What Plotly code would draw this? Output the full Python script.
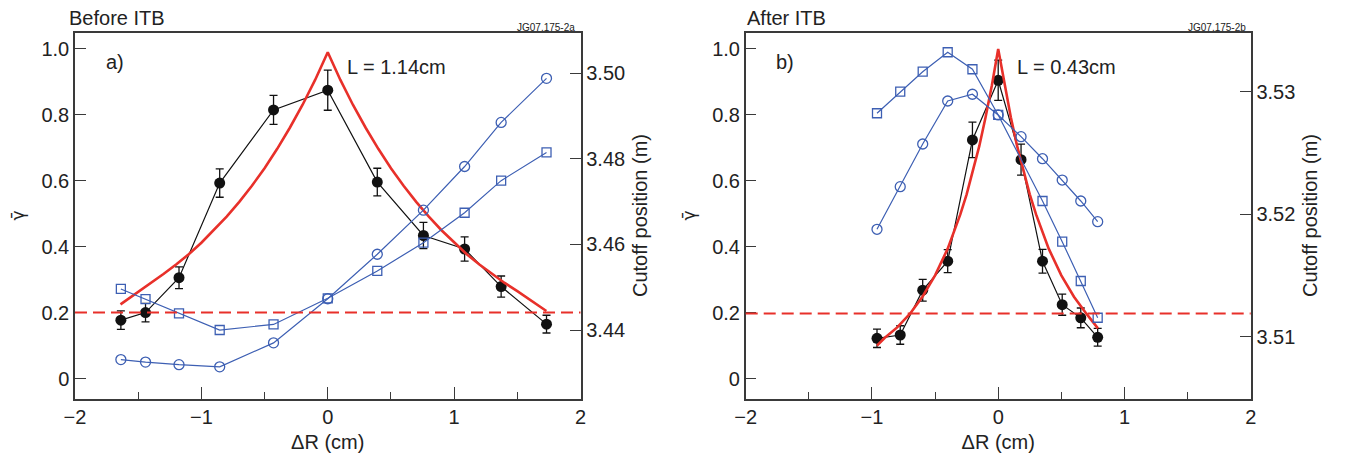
import plotly.graph_objects as go

# ---------------- data: panel a) Before ITB ----------------
a_dr = [-1.637, -1.442, -1.177, -0.855, -0.429, 0.0, 0.392, 0.757, 1.083, 1.372, 1.731]
a_gamma = [0.177, 0.200, 0.306, 0.593, 0.815, 0.875, 0.596, 0.434, 0.393, 0.279, 0.165]
a_gamma_err = [0.028, 0.028, 0.033, 0.043, 0.044, 0.061, 0.042, 0.040, 0.037, 0.032, 0.027]
a_cut_circ = [3.4331, 3.4325, 3.4319, 3.4314, 3.4370, 3.4473, 3.4577, 3.4680, 3.4782, 3.4885, 3.4988]
a_cut_sq = [3.4496, 3.4472, 3.4439, 3.4400, 3.4413, 3.4474, 3.4538, 3.4604, 3.4674, 3.4749, 3.4815]
a_fit_dr = [-1.64, -1.5, -1.4, -1.3, -1.2, -1.1, -1.0, -0.9, -0.8, -0.7, -0.6, -0.5, -0.4, -0.3, -0.2, -0.1, 0.0,
            0.1, 0.2, 0.3, 0.4, 0.5, 0.6, 0.7, 0.8, 0.9, 1.0, 1.1, 1.2, 1.3, 1.4, 1.5, 1.6, 1.73]
a_fit_g = [0.225, 0.262, 0.29, 0.317, 0.346, 0.377, 0.412, 0.45, 0.491, 0.536, 0.585, 0.638, 0.697, 0.761, 0.83, 0.906, 0.99,
           0.906, 0.83, 0.761, 0.697, 0.638, 0.585, 0.536, 0.491, 0.45, 0.412, 0.377, 0.346, 0.317, 0.29, 0.265, 0.24, 0.205]
a_threshold = 0.2

# ---------------- data: panel b) After ITB ----------------
b_dr = [-0.960, -0.776, -0.598, -0.400, -0.204, 0.0, 0.181, 0.351, 0.507, 0.654, 0.788]
b_gamma = [0.122, 0.132, 0.268, 0.356, 0.724, 0.905, 0.664, 0.356, 0.224, 0.184, 0.125]
b_gamma_err = [0.028, 0.028, 0.033, 0.035, 0.054, 0.061, 0.047, 0.036, 0.032, 0.030, 0.027]
b_cut_circ = [3.51877, 3.52225, 3.52573, 3.52924, 3.52979, 3.52810, 3.52633, 3.52453, 3.52279, 3.52108, 3.51939]
b_sq_dr = [-0.960, -0.776, -0.598, -0.400, -0.204, 0.0, 0.351, 0.507, 0.654, 0.788]
b_cut_sq = [3.52824, 3.53000, 3.53163, 3.53322, 3.53183, 3.52810, 3.52108, 3.51776, 3.51455, 3.51155]
b_fit_dr = [-0.96, -0.9, -0.8, -0.7, -0.6, -0.5, -0.4, -0.3, -0.25, -0.2, -0.15, -0.1, -0.05, 0.0,
            0.05, 0.1, 0.15, 0.2, 0.25, 0.3, 0.4, 0.5, 0.6, 0.7, 0.79]
b_fit_g = [0.10, 0.123, 0.155, 0.196, 0.248, 0.313, 0.394, 0.498, 0.559, 0.628, 0.705, 0.793, 0.89, 1.0,
           0.89, 0.793, 0.705, 0.628, 0.559, 0.498, 0.394, 0.313, 0.248, 0.196, 0.152]
b_threshold = 0.197

gamma_ticks = [0, 0.2, 0.4, 0.6, 0.8, 1.0]
gamma_ticktext = ["0", "0.2", "0.4", "0.6", "0.8", "1.0"]
a_cut_ticks = [3.44, 3.46, 3.48, 3.50]
b_cut_ticks = [3.51, 3.52, 3.53]
x_ticks = [-2, -1, 0, 1, 2]

# ---------------- styling ----------------
OFF = 8  # page body margin in the browser
W, H = 1348 - OFF, 454 - OFF
FONT = "Liberation Sans, Arial, sans-serif"
BLUE = "#3d5fb3"
RED = "#e8302a"
BLACK = "#111111"
AX = "#3a3a3a"

def px_x(p):
    return (p - OFF) / W

def px_y(p):
    return 1 - (p - OFF) / H

top_px, bot_px = 32.5, 398.5
ydom = [px_y(bot_px), px_y(top_px)]

fig = go.Figure()

def add_panel(xa, ya, ya2, dr, g, gerr, circ_dr, circ, sq_dr, sq, fdr, fg):
    fig.add_trace(go.Scatter(x=circ_dr, y=circ, xaxis=xa, yaxis=ya2, mode="lines+markers",
                             line=dict(color=BLUE, width=1.2),
                             marker=dict(symbol="circle-open", size=10, color=BLUE, line=dict(width=1.3, color=BLUE)),
                             showlegend=False))
    fig.add_trace(go.Scatter(x=sq_dr, y=sq, xaxis=xa, yaxis=ya2, mode="lines+markers",
                             line=dict(color=BLUE, width=1.2),
                             marker=dict(symbol="square-open", size=9, color=BLUE, line=dict(width=1.3, color=BLUE)),
                             showlegend=False))
    fig.add_trace(go.Scatter(x=dr, y=g, xaxis=xa, yaxis=ya, mode="lines+markers",
                             line=dict(color=BLACK, width=1.2),
                             marker=dict(symbol="circle", size=11, color=BLACK),
                             error_y=dict(type="data", array=gerr, color=BLACK, thickness=1.3, width=4),
                             showlegend=False))
    fig.add_trace(go.Scatter(x=fdr, y=fg, xaxis=xa, yaxis=ya, mode="lines",
                             line=dict(color=RED, width=2.6), showlegend=False))

add_panel("x", "y", "y2", a_dr, a_gamma, a_gamma_err, a_dr, a_cut_circ, a_dr, a_cut_sq, a_fit_dr, a_fit_g)
add_panel("x2", "y3", "y4", b_dr, b_gamma, b_gamma_err, b_dr, b_cut_circ, b_sq_dr, b_cut_sq, b_fit_dr, b_fit_g)

fig.add_shape(type="line", xref="x domain", yref="y", x0=0, x1=1, y0=a_threshold, y1=a_threshold,
              line=dict(color=RED, width=2, dash="12px,6px"))
fig.add_shape(type="line", xref="x2 domain", yref="y3", x0=0, x1=1, y0=b_threshold, y1=b_threshold,
              line=dict(color=RED, width=2, dash="12px,6px"))

tickfont = dict(family=FONT, size=20, color="#222222")
titlefont = dict(family=FONT, size=20, color="#222222")

xcommon = dict(range=[-2, 2], tickvals=x_ticks, ticks="inside", ticklen=12, tickwidth=1.3, tickcolor=AX,
               showline=True, linecolor=AX, linewidth=1.5, mirror=True, showgrid=False, zeroline=False,
               automargin=False, tickfont=tickfont,
               minor=dict(dtick=0.5, ticks="inside", ticklen=7, tickwidth=1.3, tickcolor=AX),
               title=dict(text="ΔR (cm)", font=titlefont, standoff=8))
gcommon = dict(range=[-0.0607, 1.050], tickvals=gamma_ticks, ticktext=gamma_ticktext, ticks="inside",
               ticklen=11, tickwidth=1.3, tickcolor=AX, showline=True, linecolor=AX, linewidth=1.5,
               showgrid=False, zeroline=False, automargin=False, tickfont=tickfont, domain=ydom,
               title=dict(text="γ̄", font=dict(family="DejaVu Sans", size=17, color="#222222"), standoff=12))
ccommon = dict(ticks="inside", ticklen=11, tickwidth=1.3, tickcolor=AX, showline=True, linecolor=AX,
               linewidth=1.5, showgrid=False, zeroline=False, automargin=False, tickfont=tickfont, side="right",
               title=dict(text="Cutoff position (m)", font=titlefont, standoff=9))

fig.update_layout(
    width=W, height=H, margin=dict(l=0, r=0, t=0, b=0, autoexpand=False), autosize=False,
    paper_bgcolor="white", plot_bgcolor="white",
    xaxis=dict(domain=[px_x(75), px_x(580.5)], anchor="y", **xcommon),
    yaxis=dict(anchor="x", **gcommon),
    yaxis2=dict(overlaying="y", anchor="x", range=[3.42400, 3.50951], tickvals=a_cut_ticks,
                ticktext=["3.44", "3.46", "3.48", "3.50"], **ccommon),
    xaxis2=dict(domain=[px_x(745.7), px_x(1250.7)], anchor="y3", **xcommon),
    yaxis3=dict(anchor="x2", **gcommon),
    yaxis4=dict(overlaying="y3", anchor="x2", range=[3.50496, 3.53483], tickvals=b_cut_ticks,
                ticktext=["3.51", "3.52", "3.53"], **ccommon),
)

def note(text, x, y, size=20, xanchor="left", yanchor="middle"):
    fig.add_annotation(text=text, xref="paper", yref="paper", x=px_x(x), y=px_y(y), showarrow=False,
                       xanchor=xanchor, yanchor=yanchor, font=dict(family=FONT, size=size, color="#222222"))

note("Before ITB", 67, 18)
note("JG07.175-2a", 577, 27, size=10, xanchor="right")
note("a)", 104, 62)
note("L = 1.14cm", 345, 67)
note("After ITB", 745, 18)
note("JG07.175-2b", 1248, 27, size=10, xanchor="right")
note("b)", 774, 62)
note("L = 0.43cm", 1015, 67)

fig.write_html("out.html")
